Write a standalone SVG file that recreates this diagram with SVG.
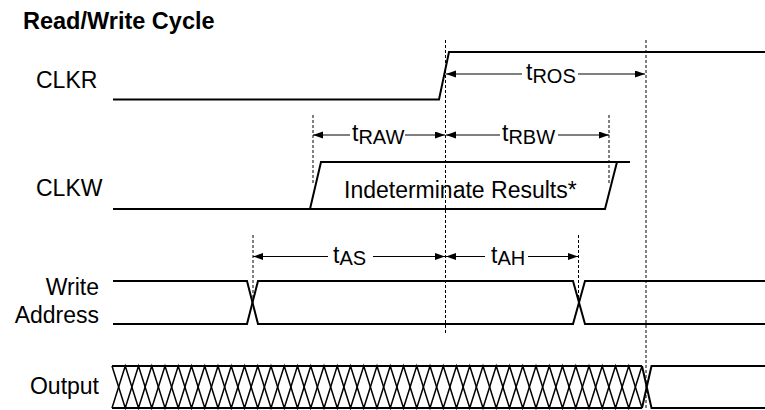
<svg xmlns="http://www.w3.org/2000/svg" width="765" height="410" viewBox="0 0 765 410">
<defs>
<style>
.t{font-family:"Liberation Sans",Arial,sans-serif;font-size:23px;fill:#000}
.title{font-family:"Liberation Sans",Arial,sans-serif;font-size:23.5px;font-weight:bold;fill:#000}
.sub{font-size:20px}
.sig{fill:none;stroke:#000;stroke-width:2;stroke-linejoin:miter}
.hatch{fill:none;stroke:#000;stroke-width:1.5}
.dash{fill:none;stroke:#000;stroke-width:1;stroke-dasharray:3,2}
.dim{fill:none;stroke:#000;stroke-width:1;marker-end:url(#ah)}
</style>
<marker id="ah" markerUnits="userSpaceOnUse" markerWidth="11" markerHeight="8" refX="10" refY="3.5" orient="auto">
<path d="M0,0 L10,3.5 L0,7 z" fill="#000"/>
</marker>
</defs>
<rect width="765" height="410" fill="#fff"/>
<text class="title" x="23" y="29">Read/Write Cycle</text>

<g id="dashes">
<line class="dash" x1="445.5" y1="40" x2="445.5" y2="334"/>
<line class="dash" x1="646" y1="40" x2="646" y2="410"/>
<line class="dash" x1="313" y1="115" x2="313" y2="185"/>
<line class="dash" x1="609" y1="115" x2="609" y2="185"/>
<line class="dash" x1="253" y1="235" x2="253" y2="300"/>
<line class="dash" x1="578.5" y1="235" x2="578.5" y2="302"/>
</g>

<g id="clkr">
<text class="t" x="36" y="88">CLKR</text>
<path class="sig" d="M113,99.5 H439 L449,52 H765"/>
</g>

<g id="clkw">
<text class="t" x="36" y="196">CLKW</text>
<path class="sig" d="M113,209 H310 L321,162 H630"/>
<path class="sig" d="M310,209 H605 L617,162"/>
<text class="t" x="344" y="197.5" font-size="24">Indeterminate Results*</text>
</g>

<g id="write-address">
<text class="t" x="99" y="295" font-size="21" text-anchor="end">Write</text>
<text class="t" x="99" y="323" font-size="21" text-anchor="end">Address</text>
<path class="sig" d="M113,281 H247 L258,324 H573 L585,281 H765"/>
<path class="sig" d="M113,324 H247 L258,281 H573 L585,324 H765"/>
</g>

<g id="output">
<text class="t" x="99" y="394" font-size="21.5" text-anchor="end">Output</text>
<path class="sig" d="M112,366 H642 M112,408 H642"/>
<polyline class="hatch" points="112,366 125.25,408 138.5,366 151.75,408 165,366 178.25,408 191.5,366 204.75,408 218,366 231.25,408 244.5,366 257.75,408 271,366 284.25,408 297.5,366 310.75,408 324,366 337.25,408 350.5,366 363.75,408 377,366 390.25,408 403.5,366 416.75,408 430,366 443.25,408 456.5,366 469.75,408 483,366 496.25,408 509.5,366 522.75,408 536,366 549.25,408 562.5,366 575.75,408 589,366 602.25,408 615.5,366 628.75,408 642,366"/>
<polyline class="hatch" points="112,408 125.25,366 138.5,408 151.75,366 165,408 178.25,366 191.5,408 204.75,366 218,408 231.25,366 244.5,408 257.75,366 271,408 284.25,366 297.5,408 310.75,366 324,408 337.25,366 350.5,408 363.75,366 377,408 390.25,366 403.5,408 416.75,366 430,408 443.25,366 456.5,408 469.75,366 483,408 496.25,366 509.5,408 522.75,366 536,408 549.25,366 562.5,408 575.75,366 589,408 602.25,366 615.5,408 628.75,366 642,408"/>
<path class="sig" d="M642,366 L651.5,408 H765 M642,408 L651.5,366 H765"/>
</g>

<g id="connectors">
<line class="dim" x1="522" y1="74" x2="446" y2="74"/>
<line class="dim" x1="578" y1="74" x2="645" y2="74"/>
<line class="dim" x1="350" y1="135" x2="313" y2="135"/>
<line class="dim" x1="405" y1="135" x2="445" y2="135"/>
<line class="dim" x1="500" y1="135" x2="446" y2="135"/>
<line class="dim" x1="558" y1="135" x2="609" y2="135"/>
<line class="dim" x1="328" y1="256.5" x2="253" y2="256.5"/>
<line class="dim" x1="373" y1="256.5" x2="445" y2="256.5"/>
<line class="dim" x1="485" y1="256.5" x2="446" y2="256.5"/>
<line class="dim" x1="528" y1="256.5" x2="578" y2="256.5"/>
<text class="t" x="526" y="80">t<tspan class="sub" dy="2.5">ROS</tspan></text>
<text class="t" x="352" y="141">t<tspan class="sub" dy="2.5">RAW</tspan></text>
<text class="t" x="502" y="141">t<tspan class="sub" dy="2.5">RBW</tspan></text>
<text class="t" x="333" y="262.5">t<tspan class="sub" dy="2.5">AS</tspan></text>
<text class="t" x="491" y="262.5">t<tspan class="sub" dy="2.5">AH</tspan></text>
</g>
</svg>
